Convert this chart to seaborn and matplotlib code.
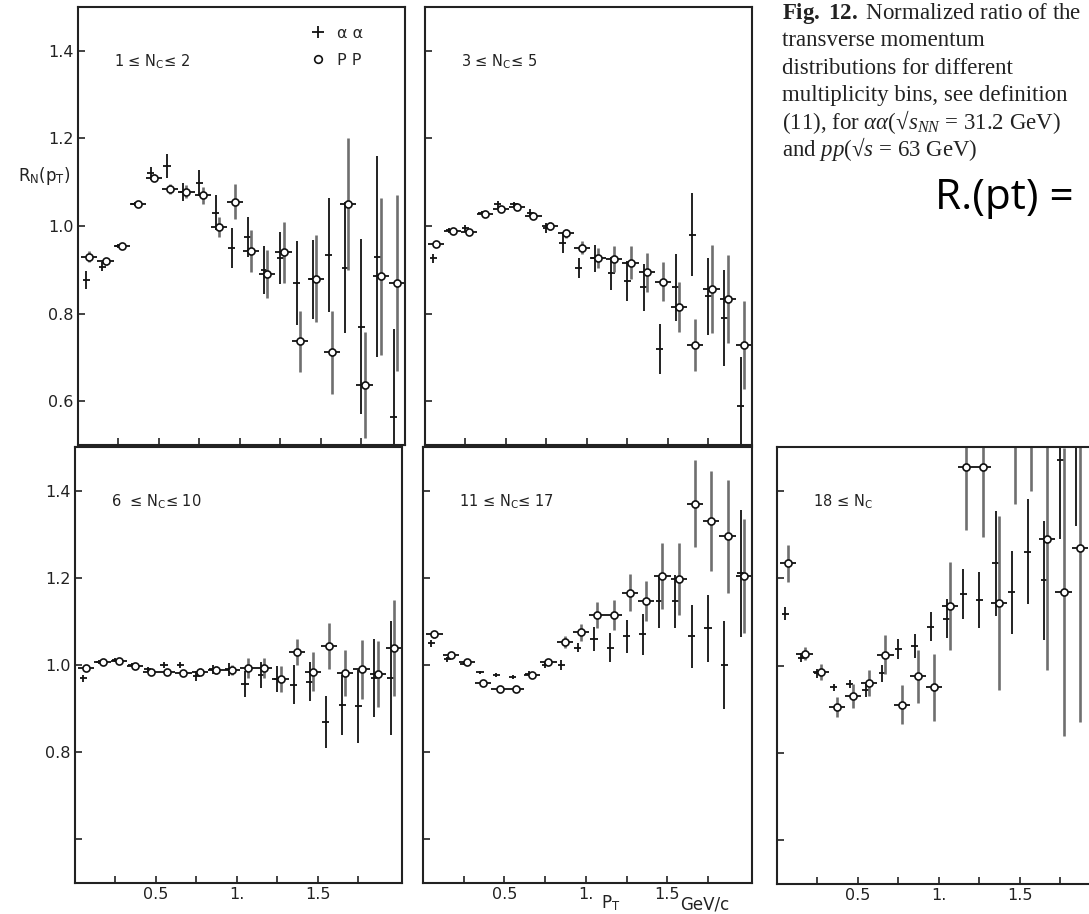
import numpy as np
import pandas as pd
import seaborn as sns
import matplotlib.pyplot as plt
from matplotlib.lines import Line2D

# pT bin centres (GeV/c); alpha-alpha crosses sit a little left of the pp circles
pt_aa = [0.05, 0.15, 0.25, 0.35, 0.45, 0.55, 0.65, 0.75, 0.85, 0.95,
         1.05, 1.15, 1.25, 1.35, 1.45, 1.55, 1.65, 1.75, 1.85, 1.95]
pt_pp = [0.07, 0.17, 0.27, 0.37, 0.47, 0.57, 0.67, 0.77, 0.87, 0.97,
         1.07, 1.17, 1.27, 1.37, 1.47, 1.57, 1.67, 1.77, 1.87, 1.97]

# 1 <= Nc <= 2
aa_1 = [0.877, 0.907, 0.955, 1.05, 1.12, 1.137, 1.078, 1.098, 1.03, 0.95,
        0.975, 0.90, 0.927, 0.87, 0.878, 0.934, 0.905, 0.77, 0.93, 0.565]
aa_1_err = [0.02, 0.01, 0.005, 0.005, 0.015, 0.027, 0.02, 0.03, 0.04, 0.045,
            0.045, 0.055, 0.06, 0.095, 0.09, 0.13, 0.15, 0.2, 0.23, 0.2]
pp_1 = [0.93, 0.92, 0.955, 1.05, 1.11, 1.085, 1.078, 1.07, 0.997, 1.055,
        0.943, 0.89, 0.94, 0.737, 0.88, 0.712, 1.05, 0.637, 0.885, 0.87]
pp_1_err = [0.012, 0.008, 0.005, 0.006, 0.008, 0.012, 0.015, 0.02, 0.023, 0.04,
            0.047, 0.055, 0.07, 0.07, 0.1, 0.095, 0.15, 0.12, 0.18, 0.2]

# 3 <= Nc <= 5
aa_2 = [0.926, 0.99, 0.995, 1.03, 1.05, 1.05, 1.03, 0.995, 0.962, 0.905,
        0.926, 0.892, 0.874, 0.86, 0.72, 0.86, 0.98, 0.84, 0.79, 0.59]
aa_2_err = [0.011, 0.005, 0.008, 0.005, 0.008, 0.005, 0.008, 0.011, 0.023, 0.023,
            0.03, 0.038, 0.046, 0.053, 0.057, 0.076, 0.095, 0.088, 0.11, 0.11]
pp_2 = [0.96, 0.989, 0.987, 1.027, 1.038, 1.044, 1.023, 1.0, 0.983, 0.95,
        0.927, 0.924, 0.916, 0.894, 0.873, 0.815, 0.728, 0.856, 0.833, 0.728]
pp_2_err = [0.006, 0.004, 0.004, 0.004, 0.004, 0.004, 0.006, 0.008, 0.01, 0.015,
            0.023, 0.03, 0.038, 0.045, 0.045, 0.057, 0.06, 0.1, 0.1, 0.1]

# 6 <= Nc <= 10
aa_3 = [0.97, 1.007, 1.012, 1.0, 0.99, 1.0, 1.0, 0.975, 0.99, 0.99,
        0.957, 0.977, 0.968, 0.955, 0.962, 0.87, 0.908, 0.905, 0.97, 0.97]
aa_3_err = [0.008, 0.004, 0.004, 0.004, 0.006, 0.008, 0.008, 0.011, 0.011, 0.015,
            0.03, 0.03, 0.03, 0.045, 0.045, 0.06, 0.068, 0.083, 0.09, 0.13]
pp_3 = [0.993, 1.007, 1.01, 0.997, 0.985, 0.983, 0.982, 0.985, 0.988, 0.988,
        0.993, 0.993, 0.968, 1.03, 0.985, 1.043, 0.982, 0.99, 0.98, 1.04]
pp_3_err = [0.004, 0.004, 0.004, 0.006, 0.006, 0.006, 0.006, 0.008, 0.009, 0.011,
            0.023, 0.023, 0.03, 0.03, 0.045, 0.053, 0.053, 0.068, 0.076, 0.11]

# 11 <= Nc <= 17
aa_4 = [1.05, 1.013, 1.003, 0.983, 0.977, 0.973, 0.98, 1.0, 1.0, 1.04,
        1.06, 1.04, 1.066, 1.07, 1.146, 1.146, 1.066, 1.084, 1.0, 1.21]
aa_4_err = [0.008, 0.006, 0.004, 0.004, 0.004, 0.004, 0.006, 0.006, 0.011, 0.011,
            0.027, 0.034, 0.038, 0.046, 0.06, 0.06, 0.072, 0.076, 0.1, 0.145]
pp_4 = [1.07, 1.023, 1.007, 0.958, 0.945, 0.946, 0.977, 1.007, 1.052, 1.075,
        1.115, 1.115, 1.166, 1.147, 1.204, 1.197, 1.37, 1.33, 1.295, 1.204]
pp_4_err = [0.008, 0.006, 0.004, 0.004, 0.004, 0.004, 0.006, 0.006, 0.014, 0.019,
            0.03, 0.034, 0.042, 0.046, 0.076, 0.083, 0.1, 0.114, 0.13, 0.13]

# 18 <= Nc (last bin falls outside the page)
aa_5 = [1.118, 1.018, 0.982, 0.95, 0.957, 0.943, 0.982, 1.038, 1.045, 1.089,
        1.107, 1.164, 1.15, 1.234, 1.168, 1.26, 1.195, 1.47, 1.52]
aa_5_err = [0.015, 0.011, 0.011, 0.008, 0.009, 0.015, 0.019, 0.023, 0.027, 0.034,
            0.045, 0.057, 0.064, 0.12, 0.095, 0.12, 0.136, 0.18, 0.2]
pp_5 = [1.234, 1.027, 0.985, 0.905, 0.93, 0.96, 1.025, 0.91, 0.975, 0.95,
        1.136, 1.455, 1.455, 1.143, 1.58, 1.6, 1.29, 1.168, 1.27]
pp_5_err = [0.042, 0.015, 0.019, 0.023, 0.027, 0.03, 0.045, 0.045, 0.06, 0.076,
            0.1, 0.144, 0.16, 0.2, 0.21, 0.2, 0.3, 0.33, 0.4]

bin_labels = [r"1 ≤ N$_{\mathsf{C}}$≤ 2", r"3 ≤ N$_{\mathsf{C}}$≤ 5",
              r"6  ≤ N$_{\mathsf{C}}$≤ 10", r"11 ≤ N$_{\mathsf{C}}$≤ 17",
              r"18 ≤ N$_{\mathsf{C}}$"]
y_ticks = [0.6, 0.8, 1.0, 1.2, 1.4]
x_ticks = [0.25, 0.5, 0.75, 1.0, 1.25, 1.5, 1.75]
x_ticklabels = ["", "0.5", "", "1.", "", "1.5", ""]

sns.set_style("ticks")
plt.rcParams['font.family'] = ['DejaVu Sans']
plt.rcParams['mathtext.fontset'] = 'custom'
plt.rcParams['mathtext.rm'] = 'Liberation Serif'
plt.rcParams['mathtext.it'] = 'Liberation Serif:italic'
plt.rcParams['mathtext.bf'] = 'Liberation Serif:bold'
plt.rcParams['mathtext.sf'] = 'DejaVu Sans'

W, H = 1089, 914
fig = plt.figure(figsize=(W / 100, H / 100), dpi=100)


def rect(x0, x1, y0, y1):
    return [x0 / W, 1 - y1 / H, (x1 - x0) / W, (y1 - y0) / H]


layout = [
    (rect(78, 405, 7, 445), aa_1, aa_1_err, pp_1, pp_1_err, 'top', 'left'),
    (rect(425, 752, 7, 445), aa_2, aa_2_err, pp_2, pp_2_err, 'top', 'none'),
    (rect(75, 402, 447, 883), aa_3, aa_3_err, pp_3, pp_3_err, 'bottom', 'left'),
    (rect(423, 752, 447, 883), aa_4, aa_4_err, pp_4, pp_4_err, 'bottom', 'none'),
    (rect(777, 1104, 447, 884), aa_5, aa_5_err, pp_5, pp_5_err, 'bottom', 'none'),
]

axes = []
for i, (r, aa, aa_err, pp, pp_err, row, ycol) in enumerate(layout):
    ax = fig.add_axes(r)
    n = len(aa)
    df_aa = pd.DataFrame({'pt': pt_aa[:n], 'r': aa, 'err': aa_err})
    df_pp = pd.DataFrame({'pt': pt_pp[:n], 'r': pp, 'err': pp_err})

    ax.errorbar(df_aa['pt'], df_aa['r'], yerr=df_aa['err'], xerr=0.022,
                fmt='none', ecolor='#111111', elinewidth=1.3, capsize=0)
    ax.errorbar(df_pp['pt'], df_pp['r'], yerr=df_pp['err'],
                fmt='none', ecolor='#6f6f6f', elinewidth=1.9, capsize=0)
    ax.errorbar(df_pp['pt'], df_pp['r'], xerr=0.05,
                fmt='none', ecolor='#111111', elinewidth=1.3, capsize=0)
    sns.scatterplot(data=df_pp, x='pt', y='r', ax=ax, marker='o', s=26,
                    facecolor='white', edgecolor='#111111', linewidth=1.2,
                    zorder=5, legend=False)

    ax.set_xlim(0, 2.02)
    ax.set_ylim(0.5, 1.5)
    ax.set_xlabel('')
    ax.set_ylabel('')
    ax.set_xticks(x_ticks)
    ax.set_yticks(y_ticks)
    if row == 'bottom':
        ax.set_xticklabels(x_ticklabels)
    else:
        ax.set_xticklabels([])
    if ycol == 'left':
        if row == 'top':
            ax.set_yticklabels(["0.6", "0.8", "1.0", "1.2", "1.4"])
        else:
            ax.set_yticklabels(["", "0.8", "1.0", "1.2", "1.4"])
    else:
        ax.set_yticklabels([])
    ax.tick_params(direction='in', length=5, width=1.2, colors='#222222',
                   labelsize=11.5, pad=3)
    for sp in ax.spines.values():
        sp.set_visible(True)
        sp.set_linewidth(1.5)
        sp.set_color('#222222')
    ax.text(0.11, 0.875, bin_labels[i], transform=ax.transAxes, fontsize=10.5,
            color='#222222', va='center', ha='left')
    axes.append(ax)

# legend in the first panel
handles = [Line2D([], [], marker='+', ls='none', color='#111111', ms=8, mew=1.3),
           Line2D([], [], marker='o', ls='none', mfc='white', mec='#111111',
                  ms=5.5, mew=1.2)]
axes[0].legend(handles, ['α α', 'P P'], loc='upper left',
               bbox_to_anchor=(0.66, 0.99), frameon=False, fontsize=11.5,
               handletextpad=0.6, labelspacing=0.75, handlelength=1.2)

# axis titles
fig.text(18 / W, 1 - 176 / H, r"R$_{\mathsf{N}}$(p$_{\mathsf{T}}$)", fontsize=12,
         color='#222222', va='center', ha='left')
axes[3].text(1.15, -0.047, r"P$_{\mathsf{T}}$", transform=axes[3].get_xaxis_transform(),
             fontsize=12, color='#222222', va='center', ha='center')
axes[3].text(1.58, -0.05, "GeV/c", transform=axes[3].get_xaxis_transform(),
             fontsize=12, color='#222222', va='center', ha='left')

# caption, one line per text so the spacing stays even
cap_lines = [r"$\mathbf{Fig.\ 12.}$ Normalized ratio of the",
             "transverse momentum",
             "distributions for different",
             "multiplicity bins, see definition",
             r"(11), for $\alpha\alpha$(√$s_{NN}$ = 31.2 GeV)",
             r"and $pp$(√$s$ = 63 GeV)"]
for j, line in enumerate(cap_lines):
    fig.text(782 / W, 1 - (14 + 27 * j) / H, line, family='Liberation Serif',
             fontsize=16.5, color='#222222', va='center', ha='left')

fig.text(935 / W, 1 - 209 / H, "R.(pt) =", family='Open Sans', fontsize=30.5,
         color='black', va='baseline', ha='left')

fig.savefig('out.png', dpi=100)
